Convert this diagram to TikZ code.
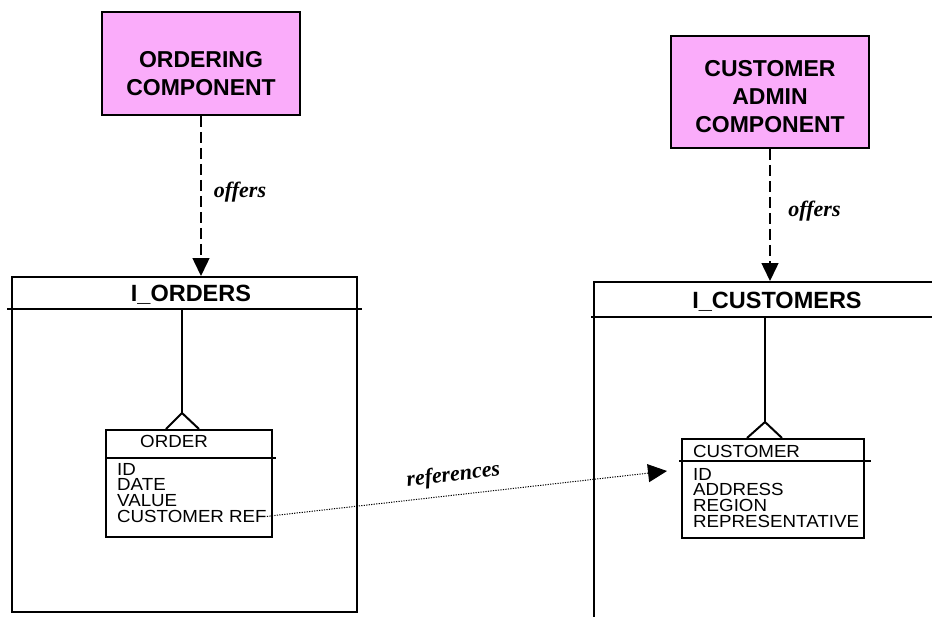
\documentclass[tikz,border=0pt]{standalone}
\usepackage{fontspec}
\setmainfont{Liberation Sans}
\newfontfamily\labelfont{Liberation Serif}
\newfontfamily\attrfont[FakeStretch=1.07]{Liberation Sans}
\usetikzlibrary{arrows.meta,calc}
\definecolor{comppink}{RGB}{250,172,250}

\begin{document}
\begin{tikzpicture}[
        x=1pt, y=-1pt,
        every node/.style={inner sep=0pt},
        component/.style={draw, line width=1.5pt, fill=comppink, minimum width=198pt},
        comptext/.style={font=\fontsize{23}{28}\selectfont\bfseries, align=center},
        iface/.style={draw, line width=2pt},
        ititle/.style={font=\fontsize{23.5}{28}\selectfont\bfseries, anchor=base},
        entity/.style={draw, line width=2pt},
        etitle/.style={font=\attrfont\fontsize{17.5}{16}\selectfont, anchor=base west},
        attr/.style={font=\attrfont\fontsize{17.5}{16}\selectfont, anchor=base west},
        assoc/.style={font=\labelfont\fontsize{22}{26}\selectfont\bfseries\itshape, anchor=base},
        offers/.style={-{Triangle[width=17pt,length=18pt]}, line width=1.5pt, dash pattern=on 11pt off 5pt},
        refs/.style={-{Triangle[width=18pt,length=19pt]}, line width=1pt, dash pattern=on 1.2pt off 1.3pt},
        link/.style={line width=2pt}
    ]
        \useasboundingbox (0,0) rectangle (932,616);
        \clip (0,0) rectangle (932,616);

        % Components
        \node[component, minimum height=103pt] (ordcomp) at (201, 63.5) {};
        \node[comptext] (ordcomptext) at (201, 74) {ORDERING\\COMPONENT};
        \node[component, minimum height=112pt] (custcomp) at (770, 92) {};
        \node[comptext] (custcomptext) at (770, 97) {CUSTOMER\\ADMIN\\COMPONENT};

        % Interfaces
        \node[iface, minimum width=345pt, minimum height=335pt] (iorders) at (184.5, 444.5) {};
        \node[ititle] (iorderstitle) at (191, 301) {I\_ORDERS};
        \node[iface, minimum width=346pt, minimum height=358pt] (icustomers) at (767, 461) {};
        \node[ititle] (icustomerstitle) at (777, 308) {I\_CUSTOMERS};

        \coordinate (ordhead) at (182, 309);
        \coordinate (custhead) at (765, 317);
        \draw[link] ($(iorders.west |- ordhead)+(-4,0)$) -- ($(iorders.east |- ordhead)+(4,0)$);
        \draw[link] ($(icustomers.west |- custhead)+(-2,0)$) -- (icustomers.east |- custhead);

        % offers
        \draw[offers] (ordcomp.south) -- (ordcomp.south |- iorders.north);
        \node[assoc] (offersleft) at (240, 197) {offers};
        \draw[offers] (custcomp.south) -- (custcomp.south |- icustomers.north);
        \node[assoc] (offersright) at (814.5, 216) {offers};

        % Entities
        \node[entity, minimum width=166pt, minimum height=107pt] (order) at (189, 483.5) {};
        \draw[link] (order.west |- 0,458) -- ($(order.east |- 0,458)+(3,0)$);
        \node[etitle] (ordertitle) at (140, 447) {ORDER};
        \foreach \a [count=\i] in {ID, DATE, VALUE, CUSTOMER REF}
            \node[attr] (ordattr\i) at (117, {475+15.8*(\i-1)}) {\a};

        \node[entity, minimum width=182pt, minimum height=99pt] (customer) at (773, 488.5) {};
        \draw[link] ($(customer.west |- 0,461)+(-2,0)$) -- ($(customer.east |- 0,461)+(6,0)$);
        \node[etitle] (customertitle) at (693, 457) {CUSTOMER};
        \foreach \a [count=\i] in {ID, ADDRESS, REGION, REPRESENTATIVE}
            \node[attr] (custattr\i) at (693, {480+15.7*(\i-1)}) {\a};

        % Crow's feet
        \coordinate (ordfoot) at (182, 413);
        \coordinate (custfoot) at (765, 422);
        \draw[link] (ordhead) -- (ordfoot);
        \draw[link] ($(order.north -| ordfoot)+(-16,0)$) -- (ordfoot) -- ($(order.north -| ordfoot)+(17,0)$);
        \draw[link] (custhead) -- (custfoot);
        \draw[link] ($(customer.north -| custfoot)+(-18,0)$) -- (custfoot) -- ($(customer.north -| custfoot)+(17,0)$);

        % references
        \coordinate (refend) at (667, 471);
        \draw[refs] (ordattr4.east) -- (refend);
        \node[assoc, rotate=7] (refslabel) at (454, 481) {references};

    \end{tikzpicture}
\end{document}
